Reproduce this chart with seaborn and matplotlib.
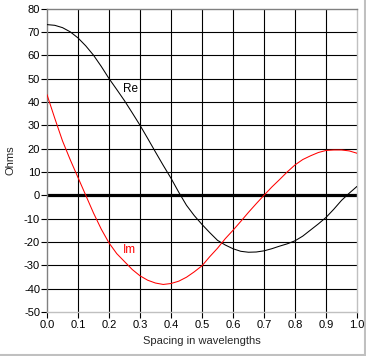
import numpy as np
import pandas as pd
import seaborn as sns
import matplotlib.pyplot as plt
from matplotlib.lines import Line2D

# spacing in wavelengths
spacing = [0.000, 0.025, 0.050, 0.075, 0.100, 0.125, 0.150, 0.175, 0.200, 0.225,
           0.250, 0.275, 0.300, 0.325, 0.350, 0.375, 0.400, 0.425, 0.450, 0.475,
           0.500, 0.525, 0.550, 0.575, 0.600, 0.625, 0.650, 0.675, 0.700, 0.725,
           0.750, 0.775, 0.800, 0.825, 0.850, 0.875, 0.900, 0.925, 0.950, 0.975,
           1.000]

# mutual impedance, real part (ohms)
re_vals = [73.1, 72.8, 71.8, 70.0, 67.4, 64.0, 60.0, 55.2, 50.0, 45.3,
           40.5, 35.3, 30.0, 24.3, 18.5, 12.8, 7.3, 1.3, -4.3, -8.7,
           -12.5, -16.0, -19.3, -21.3, -22.9, -24.0, -24.4, -24.3, -23.8, -22.9,
           -21.8, -20.8, -19.5, -17.5, -14.9, -12.3, -9.5, -6.0, -2.2, 0.9,
           3.8]

# imaginary part (ohms)
im_vals = [43.1, 33.0, 23.3, 15.2, 7.6, 0.0, -7.6, -14.5, -20.4, -25.0,
           -28.4, -31.8, -34.5, -36.4, -37.6, -38.2, -37.8, -36.8, -35.1, -32.8,
           -30.2, -26.3, -22.7, -18.6, -15.0, -11.2, -7.3, -3.6, 0.0, 3.5,
           6.7, 10.0, 13.0, 15.3, 16.9, 18.3, 19.2, 19.4, 19.4, 19.0,
           18.0]

x_ticks = [0.0, 0.1, 0.2, 0.3, 0.4, 0.5, 0.6, 0.7, 0.8, 0.9, 1.0]
y_ticks = [-50, -40, -30, -20, -10, 0, 10, 20, 30, 40, 50, 60, 70, 80]

df = pd.DataFrame({'spacing': spacing, 'Re': re_vals, 'Im': im_vals})

sns.set_style("white")
plt.rcParams['font.family'] = ['Liberation Sans', 'DejaVu Sans']
plt.rcParams['font.size'] = 8

fig = plt.figure(figsize=(3.66, 3.56), dpi=100)
ax = fig.add_axes([47/366, 1 - 312/356, 310/366, 303.5/356])

# grid
for xv in x_ticks[1:-1]:
    ax.axvline(xv, color='black', lw=0.8, zorder=1)
for yv in y_ticks[1:-1]:
    ax.axhline(yv, color='black', lw=0.8, zorder=1)
ax.axhline(0, color='black', lw=2.3, zorder=2)

sns.lineplot(data=df, x='spacing', y='Re', color='black', lw=0.75, ax=ax, zorder=3)
sns.lineplot(data=df, x='spacing', y='Im', color='red', lw=0.75, ax=ax, zorder=3)

ax.text(0.245, 45.7, 'Re', color='black', fontsize=8.5, va='center', ha='left', zorder=4)
ax.text(0.245, -23.4, 'Im', color='red', fontsize=8.5, va='center', ha='left', zorder=4)

ax.set_xlim(0, 1)
ax.set_ylim(-50, 80)
ax.set_xticks(x_ticks)
ax.set_xticklabels(['%.1f' % v for v in x_ticks])
ax.set_yticks(y_ticks)
ax.set_yticklabels([str(v) for v in y_ticks])
ax.tick_params(axis='both', direction='out', length=4, width=0.8, color='black',
               labelsize=8, labelcolor='black', left=True, bottom=True)
ax.tick_params(axis='y', pad=1)
ax.tick_params(axis='x', pad=2)
ax.set_xlabel('Spacing in wavelengths', fontsize=8, labelpad=4)
ax.set_ylabel('Ohms', fontsize=8, labelpad=6)

ax.spines['left'].set_color('#808080')
ax.spines['top'].set_color('#808080')
ax.spines['right'].set_color('#c0c0c0')
ax.spines['bottom'].set_color('#c0c0c0')
for s in ax.spines.values():
    s.set_linewidth(1.0)

# window border, right and bottom
fig.add_artist(Line2D([0, 1], [1.5/356, 1.5/356], color='#c0c0c0', lw=1.5))
fig.add_artist(Line2D([1 - 1.5/366, 1 - 1.5/366], [0, 1], color='#c0c0c0', lw=1.5))

fig.savefig('out.png', dpi=100)
